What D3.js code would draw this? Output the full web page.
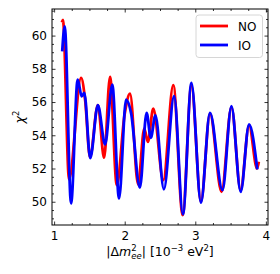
<!DOCTYPE html>
<html>
<head>
<meta charset="utf-8">
<script src="https://cdn.jsdelivr.net/npm/d3@7"></script>
<style>
    body { margin: 0; background: #fff; }
    svg text { font-family: "DejaVu Sans", sans-serif; }
</style>
</head>
<body>
<div id="chart"></div>
<script>
// chi^2 vs |dm2_ee| (extrema + shoulders)
var seriesNames = ["NO", "IO"];
var seriesColors = ["#ff0000", "#0000ff"];

var noDm2 = [1.11, 1.125, 1.212, 1.382, 1.44, 1.508, 1.62, 1.708, 1.792, 1.888, 2.00, 2.075, 2.19, 2.277, 2.328, 2.405, 2.547, 2.688, 2.821, 2.945, 3.08, 3.208, 3.372, 3.512, 3.642, 3.762, 3.875, 3.90];
var noChi2 = [60.8, 60.95, 51.35, 57.45, 56.1, 52.68, 55.82, 52.65, 57.52, 51.0, 55.3, 56.5, 51.05, 54.4, 53.6, 55.6, 51.3, 57.02, 49.2, 57.0, 50.0, 55.3, 50.6, 55.7, 50.7, 54.6, 52.0, 52.4];

var ioDm2 = [1.115, 1.15, 1.24, 1.334, 1.39, 1.428, 1.512, 1.62, 1.722, 1.824, 1.92, 2.02, 2.09, 2.215, 2.31, 2.37, 2.435, 2.555, 2.70, 2.825, 2.945, 3.08, 3.208, 3.385, 3.512, 3.643, 3.762, 3.878];
var ioChi2 = [59.05, 60.55, 49.9, 57.35, 56.35, 56.55, 52.62, 55.82, 53.45, 57.05, 50.2, 56.15, 55.35, 50.85, 55.35, 53.85, 55.2, 50.75, 56.35, 49.25, 57.15, 49.95, 55.35, 50.7, 55.75, 50.6, 54.65, 51.95];

var xTicks = [1, 2, 3, 4];
var yTicks = [50, 52, 54, 56, 58, 60];
var xDomain = [0.97, 4.03];
var yDomain = [48.6, 61.6];

var W = 280, H = 274;
var padL = 52, padR = 268, padT = 9, padB = 225;

var svg = d3.select("#chart")
    .append("svg")
    .attr("width", W)
    .attr("height", H);

var x = d3.scaleLinear().domain(xDomain).range([padL, padR]);
var y = d3.scaleLinear().domain(yDomain).range([padB, padT]);

var xMinor = d3.range(0.75, 4.26, 0.25).filter(function (d) { return d > xDomain[0] && d < xDomain[1] && xTicks.indexOf(d) < 0; });
var yMinor = d3.range(48.5, 62, 0.5).filter(function (d) { return d > yDomain[0] && d < yDomain[1] && yTicks.indexOf(d) < 0; });

function styleAxis(g) {
    g.select(".domain").remove();
    g.selectAll("line").attr("stroke", "#000").attr("stroke-width", 0.8);
    g.selectAll("text").attr("fill", "#000").style("font-size", "12px");
}

// major ticks, pointing inward, all four sides
svg.append("g").attr("transform", "translate(0," + padB + ")")
    .call(d3.axisBottom(x).tickValues(xTicks).tickSize(-3.5).tickPadding(6).tickFormat(d3.format("d")))
    .call(styleAxis);
svg.append("g").attr("transform", "translate(0," + padT + ")")
    .call(d3.axisTop(x).tickValues(xTicks).tickSize(-3.5).tickFormat(""))
    .call(styleAxis);
svg.append("g").attr("transform", "translate(" + padL + ",0)")
    .call(d3.axisLeft(y).tickValues(yTicks).tickSize(-3.5).tickPadding(5).tickFormat(d3.format("d")))
    .call(styleAxis);
svg.append("g").attr("transform", "translate(" + padR + ",0)")
    .call(d3.axisRight(y).tickValues(yTicks).tickSize(-3.5).tickFormat(""))
    .call(styleAxis);

// minor ticks
svg.append("g").attr("transform", "translate(0," + padB + ")")
    .call(d3.axisBottom(x).tickValues(xMinor).tickSize(-2).tickFormat(""))
    .call(styleAxis);
svg.append("g").attr("transform", "translate(0," + padT + ")")
    .call(d3.axisTop(x).tickValues(xMinor).tickSize(-2).tickFormat(""))
    .call(styleAxis);
svg.append("g").attr("transform", "translate(" + padL + ",0)")
    .call(d3.axisLeft(y).tickValues(yMinor).tickSize(-2).tickFormat(""))
    .call(styleAxis);
svg.append("g").attr("transform", "translate(" + padR + ",0)")
    .call(d3.axisRight(y).tickValues(yMinor).tickSize(-2).tickFormat(""))
    .call(styleAxis);

// curves
var line = d3.line()
    .x(function (d) { return x(d[0]); })
    .y(function (d) { return y(d[1]); })
    .curve(d3.curveMonotoneX);

var series = [d3.zip(noDm2, noChi2), d3.zip(ioDm2, ioChi2)];

svg.append("g")
    .selectAll("path")
    .data(series)
    .enter()
    .append("path")
    .attr("d", line)
    .attr("fill", "none")
    .attr("stroke", function (d, i) { return seriesColors[i]; })
    .attr("stroke-width", 2.8)
    .attr("stroke-linejoin", "round")
    .attr("stroke-linecap", "butt");

// frame
svg.append("rect")
    .attr("x", padL).attr("y", padT)
    .attr("width", padR - padL).attr("height", padB - padT)
    .attr("fill", "none").attr("stroke", "#000").attr("stroke-width", 1);

// legend
var lg = svg.append("g");
lg.append("rect")
    .attr("x", 196).attr("y", 15)
    .attr("width", 66.5).attr("height", 42.5)
    .attr("rx", 3)
    .attr("fill", "#fff").attr("fill-opacity", 0.8)
    .attr("stroke", "#cccccc").attr("stroke-width", 0.8);

var items = lg.selectAll(".item")
    .data(seriesNames)
    .enter()
    .append("g")
    .attr("transform", function (d, i) { return "translate(0," + (26 + i * 19) + ")"; });
items.append("line")
    .attr("x1", 200).attr("x2", 228)
    .attr("stroke", function (d, i) { return seriesColors[i]; })
    .attr("stroke-width", 2.8);
items.append("text")
    .attr("x", 238).attr("y", 4.5)
    .style("font-size", "12px")
    .text(function (d) { return d; });

// axis labels
var ylab = svg.append("text")
    .attr("transform", "translate(24," + ((padT + padB) / 2) + ") rotate(-90)")
    .attr("text-anchor", "middle")
    .style("font-size", "12.5px");
ylab.append("tspan").style("font-style", "italic").text("χ");
ylab.append("tspan").attr("dy", -5).style("font-size", "8.5px").text("2");

var xlab = svg.append("text")
    .attr("x", (padL + padR) / 2)
    .attr("y", 256)
    .attr("text-anchor", "middle")
    .style("font-size", "12.5px");
xlab.append("tspan").text("|Δ");
xlab.append("tspan").style("font-style", "italic").text("m");
xlab.append("tspan").attr("dy", -5).style("font-size", "8.5px").text("2");
xlab.append("tspan").attr("dx", -5.4).attr("dy", 8).style("font-size", "8.5px").style("font-style", "italic").text("ee");
xlab.append("tspan").attr("dy", -3).text("| [10");
xlab.append("tspan").attr("dy", -5).style("font-size", "8.5px").text("−3");
xlab.append("tspan").attr("dy", 5).text(" eV");
xlab.append("tspan").attr("dy", -5).style("font-size", "8.5px").text("2");
xlab.append("tspan").attr("dy", 5).text("]");
</script>
</body>
</html>
